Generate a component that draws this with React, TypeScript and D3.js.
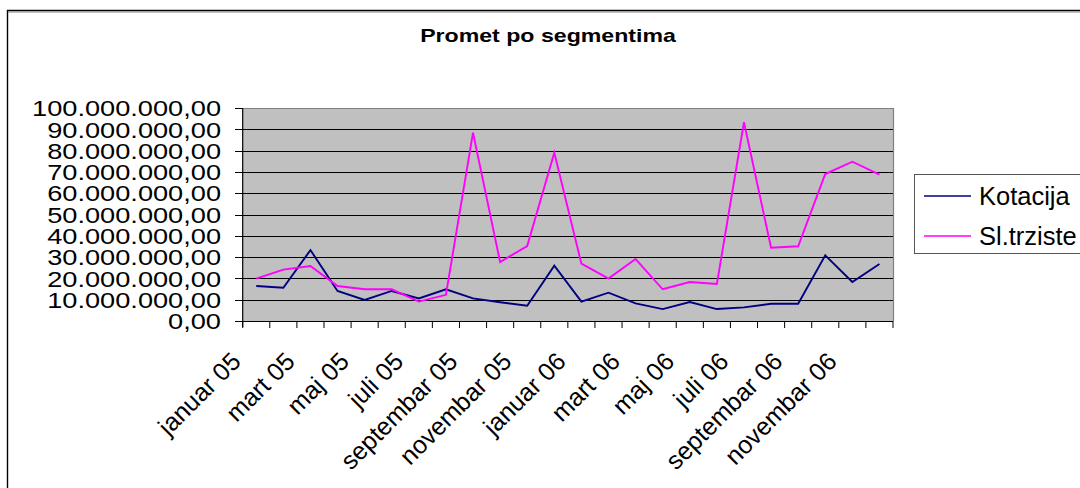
import React from "react";
import * as d3 from "d3";

const months = [
  "januar 05", "februar 05", "mart 05", "april 05", "maj 05", "juni 05",
  "juli 05", "avgust 05", "septembar 05", "oktobar 05", "novembar 05", "decembar 05",
  "januar 06", "februar 06", "mart 06", "april 06", "maj 06", "juni 06",
  "juli 06", "avgust 06", "septembar 06", "oktobar 06", "novembar 06", "decembar 06",
];

const kotacija = [
  16.4e6, 15.6e6, 33.3e6, 14.1e6, 9.9e6, 14.1e6, 10.6e6, 14.9e6, 10.6e6, 8.8e6, 7.2e6, 26.0e6,
  9.1e6, 13.3e6, 8.3e6, 5.6e6, 8.9e6, 5.6e6, 6.4e6, 8.1e6, 8.1e6, 30.8e6, 18.3e6, 26.8e6,
];

const slTrziste = [
  19.9e6, 24.1e6, 25.8e6, 16.4e6, 14.9e6, 14.9e6, 9.1e6, 12.3e6, 88.4e6, 27.7e6, 35.2e6, 79.0e6,
  26.9e6, 19.9e6, 29.1e6, 14.9e6, 18.3e6, 17.4e6, 93.3e6, 34.4e6, 35.1e6, 69.0e6, 74.8e6, 68.7e6,
];

const yTicks = [0, 10e6, 20e6, 30e6, 40e6, 50e6, 60e6, 70e6, 80e6, 90e6, 100e6];

const seriesNames = ["Kotacija", "Sl.trziste"];
const seriesColors = ["#000080", "#FF00FF"];
const title = "Promet po segmentima";

const locale = d3.formatLocale({ decimal: ",", thousands: ".", grouping: [3], currency: ["", ""] });
const fmt = locale.format(",.2f");

export default function App() {
  const W = 1080, H = 488;
  const left = 242.7, right = 893, top = 108, bottom = 321;
  const x = d3.scaleBand<string>().domain(months).range([left, right]).padding(0);
  const y = d3.scaleLinear().domain([0, 100e6]).range([bottom, top]);
  const cx = (m: string) => (x(m) as number) + x.bandwidth() / 2;
  const line = d3.line<number>().x((_, i) => cx(months[i])).y((d) => y(d));
  const boundaries = months.map((m) => x(m) as number).concat([right]);
  const series = [kotacija, slTrziste];
  const font = "'Liberation Sans', Arial, sans-serif";

  return (
    <svg width={W} height={H} style={{ position: "absolute", left: 0, top: 0, display: "block", background: "#fff" }} fontFamily={font}>
      {/* chart area border */}
      <path d={`M7.5,${H + 2} V10.5 H${W + 2}`} fill="none" stroke="#000" strokeWidth={1.4} />
      <line x1={8} x2={W} y1={12} y2={12} stroke="#808080" strokeWidth={1} />

      {/* title */}
      <text transform={`translate(548,42) scale(1.25,1)`} textAnchor="middle" fontSize={18.5} fontWeight="bold" fill="#000">
        {title}
      </text>

      {/* plot area */}
      <rect x={left} y={top} width={right - left} height={bottom - top} fill="#C0C0C0" />
      {yTicks.slice(1, -1).map((t) => (
        <line key={t} x1={left} x2={right} y1={Math.round(y(t)) + 0.5} y2={Math.round(y(t)) + 0.5} stroke="#000" strokeWidth={1} />
      ))}
      <path d={`M${left},${top + 0.5} H${right + 0.5} V${bottom}`} fill="none" stroke="#808080" strokeWidth={1.2} />

      {/* series */}
      {series.map((s, i) => (
        <path key={i} d={line(s) || ""} fill="none" stroke={seriesColors[i]} strokeWidth={1.9} strokeLinejoin="miter" />
      ))}

      {/* y axis */}
      <line x1={left} x2={left} y1={top} y2={bottom + 6} stroke="#000" strokeWidth={1.2} />
      {yTicks.map((t) => (
        <g key={t}>
          <line x1={235} x2={left} y1={Math.round(y(t)) + 0.5} y2={Math.round(y(t)) + 0.5} stroke="#000" strokeWidth={1} />
          <text transform={`translate(221,${y(t) + 8.2}) scale(1.236,1)`} textAnchor="end" fontSize={22} fill="#000">
            {fmt(t)}
          </text>
        </g>
      ))}

      {/* x axis */}
      <line x1={left} x2={right} y1={bottom + 0.5} y2={bottom + 0.5} stroke="#000" strokeWidth={1.2} />
      {boundaries.map((b, i) => (
        <line key={i} x1={b} x2={b} y1={bottom} y2={bottom + 7} stroke="#000" strokeWidth={1} />
      ))}
      {months.map((m, i) =>
        i % 2 === 0 ? (
          <text key={m} transform={`translate(${cx(m) - 14},${363}) rotate(-45)`} textAnchor="end" fontSize={25} fill="#000">
            {m}
          </text>
        ) : null
      )}

      {/* legend */}
      <rect x={914.5} y={174.5} width={200} height={79} fill="#fff" stroke="#555" strokeWidth={1} />
      {seriesNames.map((n, i) => (
        <g key={n}>
          <line x1={924} x2={971} y1={196 + i * 40} y2={196 + i * 40} stroke={seriesColors[i]} strokeWidth={1.3} />
          <text x={979} y={196 + i * 40 + 8.5} fontSize={25.5} fill="#000">
            {n}
          </text>
        </g>
      ))}
    </svg>
  );
}
